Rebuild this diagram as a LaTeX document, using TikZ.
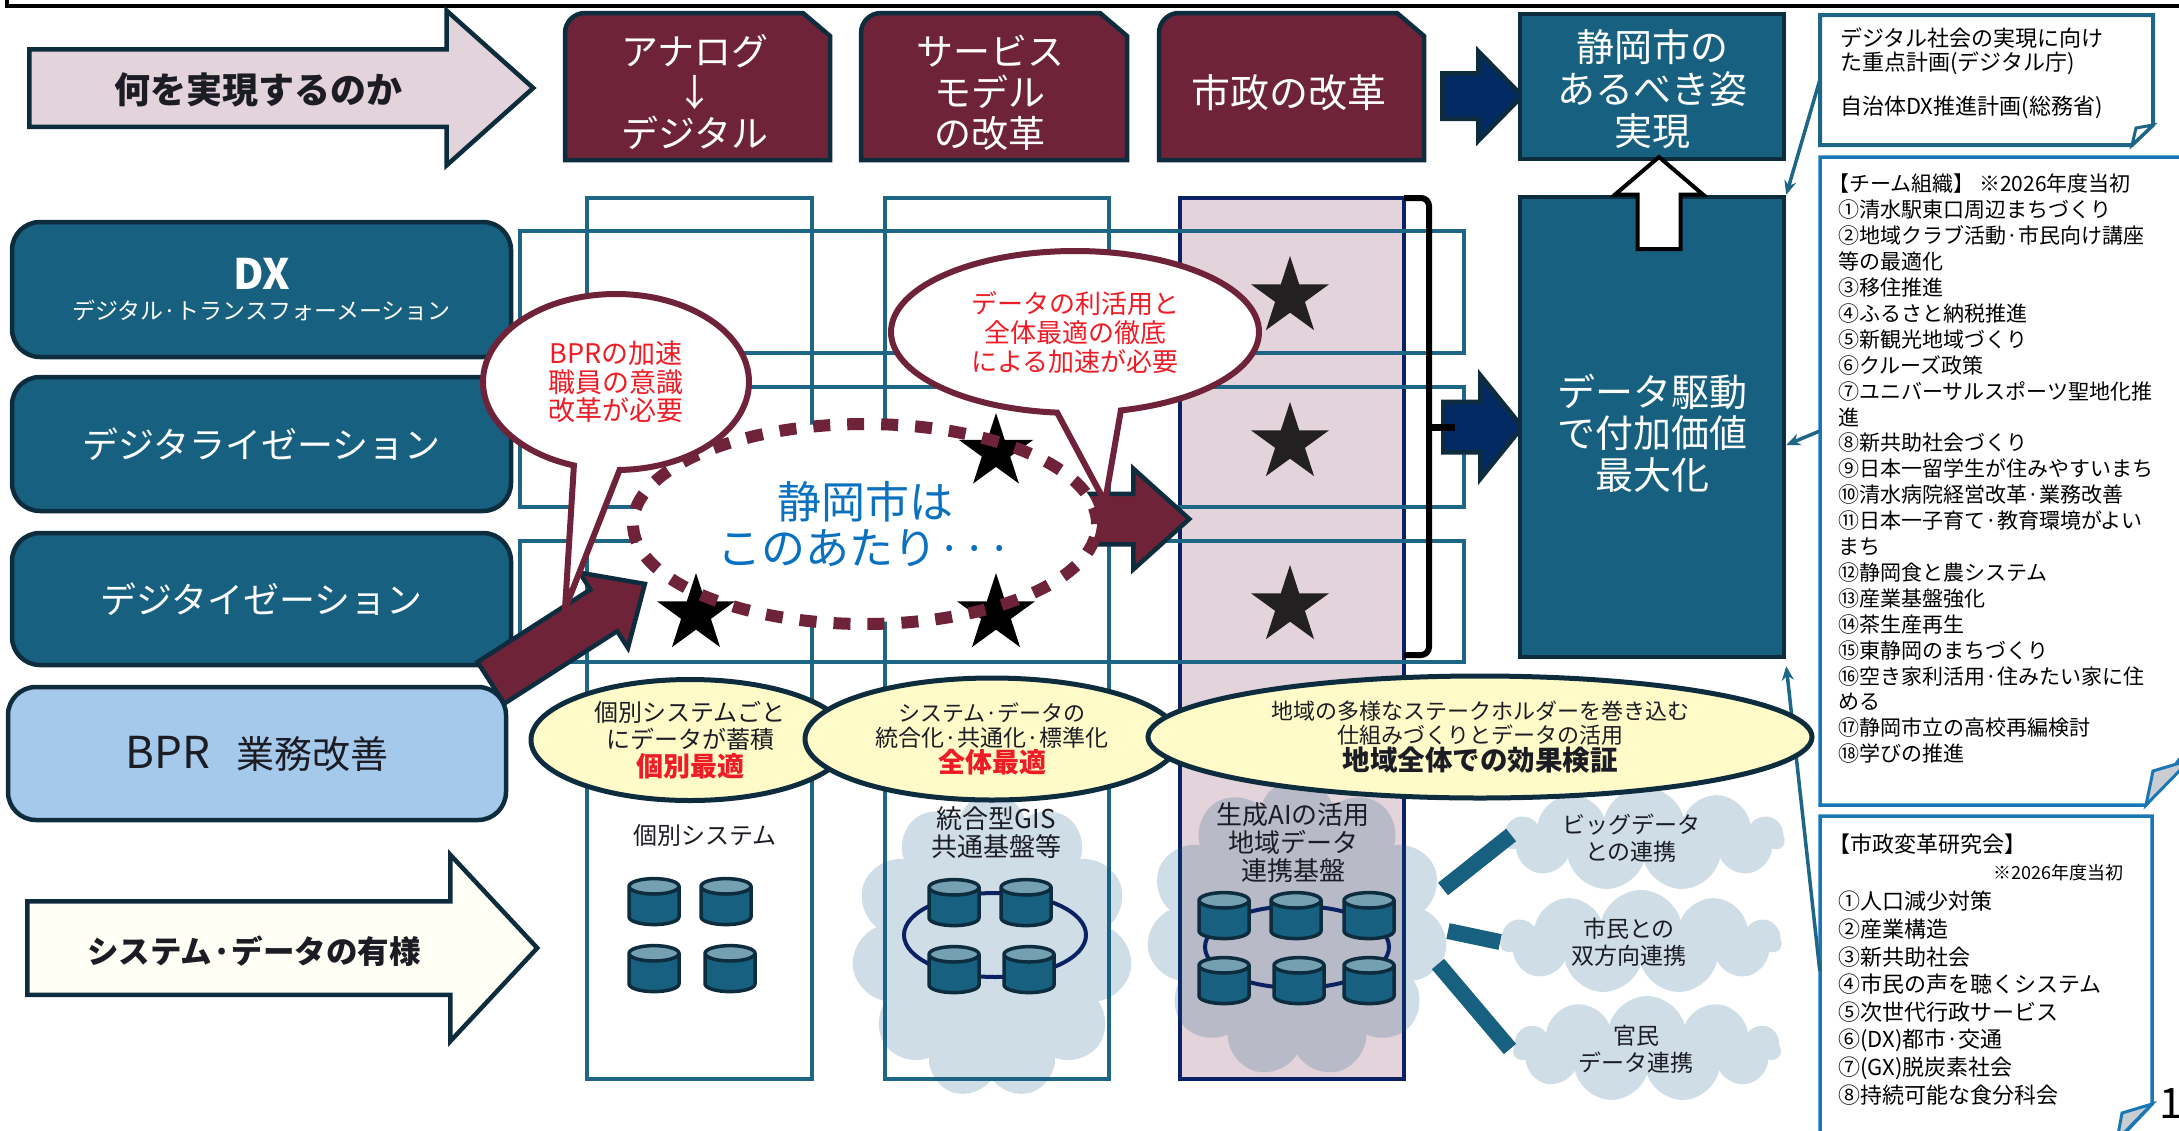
\documentclass[tikz,border=0pt]{standalone}
\usepackage{fontspec}
\setmainfont{Noto Sans CJK JP}
\usetikzlibrary{shapes.geometric,shapes.arrows,shapes.symbols,shapes.callouts,arrows.meta}
\definecolor{tealfill}{HTML}{17607F}
\definecolor{tealline}{HTML}{1D6685}
\definecolor{darkline}{HTML}{0D2D3F}
\definecolor{maroonfill}{HTML}{6F2338}
\definecolor{pinkfill}{HTML}{E3D3DA}
\definecolor{navyfill}{HTML}{042A63}
\definecolor{navyline}{HTML}{0A2164}
\definecolor{creamfill}{HTML}{FFFBC9}
\definecolor{paleskin}{HTML}{FFFFF5}
\definecolor{skyfill}{HTML}{A5C9EB}
\definecolor{bluetext}{HTML}{0A70C0}
\definecolor{bluebox}{HTML}{1A77B5}
\definecolor{redtext}{HTML}{EE1C25}
\definecolor{cloudtint}{HTML}{0F5A84}
\definecolor{inktext}{HTML}{1C1C24}
\definecolor{foldgray}{HTML}{C9CDD2}
\begin{document}
\begin{tikzpicture}[x=1pt,y=-1pt,
sidebox/.style={
% The shape:
rectangle,rounded corners=28pt,
draw=darkline,line width=4.5pt,
fill=tealfill,text=white,
minimum width=499pt,minimum height=134pt,
font=\fontsize{36}{40}\selectfont
},
plainbox/.style={
rectangle,draw=darkline,line width=4.5pt,
fill=tealfill,text=white,minimum width=264pt,
align=center,font=\fontsize{38}{41.5}\selectfont
},
snipbox/.style={
draw=darkline,line width=4.5pt,fill=maroonfill
},
snipcaption/.style={
text=white,align=center,font=\fontsize{37}{41}\selectfont
},
frame/.style={draw=tealline,line width=4pt},
goalarrow/.style={
single arrow,draw=darkline,line width=4.5pt,
single arrow head indent=0pt,anchor=tail,inner sep=0pt
},
bigstar/.style={star,star points=5,star point ratio=2.618,minimum size=82pt,inner sep=0pt,fill=black},
talkbubble/.style={
ellipse callout,draw=maroonfill,line width=6pt,fill=white,text=redtext,
align=center,inner sep=0pt,callout pointer arc=20
},
yellowtalk/.style={
ellipse,draw=darkline,line width=5pt,fill=creamfill,text=inktext,
align=center,inner sep=0pt
},
haze/.style={
cloud,cloud puffs=11,cloud ignores aspect,fill=cloudtint,fill opacity=0.2,text opacity=1,inner sep=0pt
},
hazetext/.style={text=inktext,align=center,font=\fontsize{23}{27}\selectfont},
dbcyl/.style={
cylinder,shape border rotate=90,shape aspect=1.1,yshift=-9pt,
minimum height=46pt,minimum width=50pt,inner sep=7pt,
draw=darkline,line width=3.5pt,
cylinder uses custom fill,cylinder body fill=tealfill,cylinder end fill=tealfill!60!white
},
dbring/.style={ellipse,draw=navyline,line width=4pt,inner sep=0pt},
paper/.style={draw=tealline,line width=4pt,fill=white},
bluepaper/.style={draw=bluebox,line width=3.5pt,fill=white},
fold/.style={draw=bluebox,line width=3pt,fill=foldgray},
memo/.style={text=black,align=left,anchor=north west,inner sep=0pt},
callline/.style={draw=tealline,line width=3.5pt,-{Stealth[length=14pt,width=12pt]}},
thicklink/.style={draw=tealfill,line width=16pt}
]
\clip (0,0) rectangle (2179,1130);
% Top frame:
\draw[black,line width=3.5pt] (7,-10) -- (7,6) -- (2190,6);
% First row:
\node (whatarrow) at (27,88) [goalarrow,fill=pinkfill,inner ysep=36.5pt,minimum height=504pt,minimum width=150pt,single arrow head extend=38.5pt,single arrow tip angle=83.5] {};
\node (whatlabel) at (258,90) [font=\bfseries\fontsize{36}{40}\selectfont,text=inktext] {何を実現するのか};
\draw[snipbox] (565,160) [rounded corners=20pt] -- (565,13) [sharp corners] -- (803,13) -- (830,36) -- (830,160) -- cycle;
\node (analog) at (695,92) [snipcaption] {アナログ\\↓\\デジタル};
\draw[snipbox] (861,160) [rounded corners=20pt] -- (861,13) [sharp corners] -- (1100,13) -- (1127,36) -- (1127,160) -- cycle;
\node (service) at (990,93) [snipcaption] {サービス\\モデル\\の改革};
\draw[snipbox] (1159,160) [rounded corners=20pt] -- (1159,13) [sharp corners] -- (1397,13) -- (1424,36) -- (1424,160) -- cycle;
\node (reform) at (1289,93) [snipcaption,font=\fontsize{39}{41}\selectfont] {市政の改革};
\node (toparrow) at (1440,96) [goalarrow,fill=navyfill,inner ysep=20.5pt,minimum height=80pt,minimum width=85pt,single arrow head extend=22pt,single arrow tip angle=91] {};
\node (ideal) at (1652,86.5) [plainbox,minimum height=145pt] {};
\node (ideallabel) at (1652,89) [text=white,align=center,font=\fontsize{38}{42}\selectfont] {静岡市の\\あるべき姿\\実現};
% Note boxes on the right:
\draw[paper] (1820,15) -- (2153,15) -- (2153,125) -- (2132,145) -- (1820,145) -- cycle;
\draw[draw=tealline,line width=3pt,fill=white] (2132,145) -- (2136,128) -- (2153,125) -- cycle;
\node (notebox) at (1986.5,80) [minimum width=333pt,minimum height=130pt,inner sep=0pt] {};
\node (notetext) at (1840,28) [memo,font=\fontsize{22}{24}\selectfont] {デジタル社会の実現に向け\\た重点計画(デジタル庁)\\[20pt]自治体DX推進計画(総務省)};
\draw[bluepaper] (1820,157) -- (2190,157) -- (2190,745) -- (2146,805) -- (1820,805) -- cycle;
\draw[fold] (2146,805) -- (2153,771) -- (2190,760) -- cycle;
\node (teambox) at (2000,481) [minimum width=360pt,minimum height=648pt,inner sep=0pt] {};
\node (teamtext) at (1838,174) [memo,font=\fontsize{21}{25.9}\selectfont] {\hspace{-10pt}【チーム組織】 ※2026年度当初\\①清水駅東口周辺まちづくり\\②地域クラブ活動·市民向け講座\\等の最適化\\③移住推進\\④ふるさと納税推進\\⑤新観光地域づくり\\⑥クルーズ政策\\⑦ユニバーサルスポーツ聖地化推\\進\\⑧新共助社会づくり\\⑨日本一留学生が住みやすいまち\\⑩清水病院経営改革·業務改善\\⑪日本一子育て·教育環境がよい\\まち\\⑫静岡食と農システム\\⑬産業基盤強化\\⑭茶生産再生\\⑮東静岡のまちづくり\\⑯空き家利活用·住みたい家に住\\める\\⑰静岡市立の高校再編検討\\⑱学びの推進};
\draw[bluepaper] (1820,1140) -- (1820,816) -- (2152,816) -- (2152,1104) -- (2118,1140);
\draw[fold] (2152,1104) -- (2122,1113) -- (2117,1140) -- cycle;
\node (studybox) at (1986,975) [minimum width=332pt,minimum height=318pt,inner sep=0pt] {};
\node (studytext) at (1838,834) [memo,font=\fontsize{22}{27.6}\selectfont] {\hspace{-10pt}【市政変革研究会】};
\node (studydate) at (2124,873) [anchor=east,inner sep=0pt,font=\fontsize{18}{20}\selectfont] {※2026年度当初};
\node (studylist) at (1838,891) [memo,font=\fontsize{22}{27.6}\selectfont] {①人口減少対策\\②産業構造\\③新共助社会\\④市民の声を聴くシステム\\⑤次世代行政サービス\\⑥(DX)都市·交通\\⑦(GX)脱炭素社会\\⑧持続可能な食分科会};
\node (pagenum) at (2171,1104) [inner sep=0pt,font=\fontsize{42}{44}\selectfont] {1};
% Grid of columns and rows:
\draw[draw=navyline,line width=4pt,fill=pinkfill] (1180,198) rectangle (1404,1079);
\draw[frame] (520,231) rectangle (1464,353);
\draw[frame] (520,387) rectangle (1464,507);
\draw[frame] (520,541) rectangle (1464,662);
\draw[frame] (587,198) rectangle (812,1079);
\draw[frame] (885,198) rectangle (1109,1079);
\draw[black,line width=6pt,rounded corners=8pt] (1404,198) -- (1429,198) -- (1429,655) -- (1404,655);
\node (dataarrow) at (1441,427) [goalarrow,fill=navyfill,inner ysep=23pt,minimum height=79pt,minimum width=99pt,single arrow head extend=26.5pt,single arrow tip angle=102] {};
\draw[black,line width=7pt] (1429,427) -- (1455,427);
\node (data) at (1652,427) [plainbox,minimum height=460pt] {};
\node (datalabel) at (1652,433) [text=white,align=center,font=\fontsize{38}{41.5}\selectfont] {データ駆動\\で付加価値\\最大化};
\node (uparrow) at (1659,251) [goalarrow,rotate=90,fill=white,draw=black,line width=4pt,inner ysep=19.5pt,minimum height=92pt,minimum width=84pt,single arrow head extend=22.5pt,single arrow tip angle=99] {};
\draw[callline] (notebox.west) -- (data.north east);
\draw[callline] ([yshift=50pt]teambox.west) -- ([yshift=-18pt]data.east);
\draw[callline] ([yshift=4pt]studybox.west) -- ([yshift=-7pt]data.south east);
% Left column:
\node (dxbox) at (261.5,289.5) [sidebox,minimum height=135pt,align=center] {{\bfseries\fontsize{42}{44}\selectfont DX}\\[-10pt]{\fontsize{23}{26}\selectfont デジタル·トランスフォーメーション}};
\node (digitalize) at (261.5,444) [sidebox] {デジタライゼーション};
\node (digitize) at (261.5,599) [sidebox,minimum height=132pt] {デジタイゼーション};
\node (bprbox) at (257,753.5) [sidebox,fill=skyfill,text=inktext,font=\fontsize{38}{42}\selectfont,minimum width=498pt,minimum height=133pt] {{\fontsize{44}{44}\selectfont BPR}\hspace{26pt}業務改善};
\node (sysarrow) at (25,948) [goalarrow,fill=paleskin,inner ysep=44.5pt,minimum height=510pt,minimum width=182pt,single arrow head extend=46.5pt,single arrow tip angle=94] {};
\node (syslabel) at (254,951) [font=\bfseries\fontsize{31.5}{36}\selectfont,text=inktext] {システム·データの有様};
% Clouds:
\node (cloudtwo) at (992,946) [haze,minimum width=281pt,minimum height=305pt,aspect=1.04] {};
\node (cloudthree) at (1297,928) [haze,minimum width=301pt,minimum height=298pt,aspect=1.14] {};
\node (bigdata) at (1644,839) [haze,minimum width=280pt,minimum height=104pt,aspect=2.7] {};
\node (citizen) at (1641,942) [haze,minimum width=280pt,minimum height=104pt,aspect=2.7] {};
\node (pubpriv) at (1647,1049) [haze,minimum width=267pt,minimum height=106pt,aspect=2.5] {};
\coordinate (hubtop) at (1443,889);
\coordinate (hubmid) at (1448,931);
\coordinate (hublow) at (1438,964);
\draw[thicklink] ([xshift=8pt,yshift=4pt]bigdata.west) -- (hubtop);
\draw[thicklink] (citizen.west) -- (hubmid);
\draw[thicklink] ([xshift=-3pt]pubpriv.west) -- (hublow);
\node (biglabel) at (1631,838) [hazetext] {ビッグデータ\\との連携};
\node (citizenlabel) at (1629,942) [hazetext] {市民との\\双方向連携};
\node (pubprivlabel) at (1636,1049) [hazetext] {官民\\データ連携};
% Systems in each column:
\node (indiv) at (705,835) [text=inktext,font=\fontsize{24}{28}\selectfont] {個別システム};
\node (gis) at (996,833) [text=inktext,align=center,font=\fontsize{26}{28}\selectfont] {統合型GIS\\共通基盤等};
\node (genai) at (1293,843) [text=inktext,align=center,font=\fontsize{26}{28}\selectfont] {生成AIの活用\\地域データ\\連携基盤};
\node (ringtwo) at (995,935) [dbring,minimum width=182pt,minimum height=84pt] {};
\node (ringthree) at (1297,947) [dbring,minimum width=184pt,minimum height=82pt] {};
\node (dba) at (654,900) [dbcyl] {};
\node (dbb) at (726,900) [dbcyl] {};
\node (dbc) at (654,967) [dbcyl] {};
\node (dbd) at (730,967) [dbcyl] {};
\node (dbe) at (954,901) [dbcyl] {};
\node (dbf) at (1026,901) [dbcyl] {};
\node (dbg) at (954,968) [dbcyl] {};
\node (dbh) at (1029,968) [dbcyl] {};
\node (dbi) at (1224,914) [dbcyl] {};
\node (dbj) at (1296,914) [dbcyl] {};
\node (dbk) at (1369,914) [dbcyl] {};
\node (dbl) at (1224,979) [dbcyl] {};
\node (dbm) at (1299,979) [dbcyl] {};
\node (dbn) at (1369,979) [dbcyl] {};
% Stars of the third column:
\node (starone) at (1290,297) [bigstar,fill=black!85!pinkfill] {};
\node (startwo) at (1290,443) [bigstar,fill=black!85!pinkfill] {};
\node (starthree) at (1290,606) [bigstar,fill=black!85!pinkfill] {};
% Where the city stands:
\node (pusharrow) at (1085,519) [goalarrow,fill=maroonfill,inner ysep=23pt,minimum height=102pt,minimum width=96pt,single arrow head extend=25pt,single arrow tip angle=84] {};
\node (cityzone) at (865,522) [ellipse,fill=white,minimum width=464pt,minimum height=200pt,inner sep=0pt] {};
\node (stara) at (696,614) [bigstar] {};
\node (starb) at (996,614) [bigstar] {};
\node (starc) at (996,452) [bigstar,minimum size=78pt] {};
\node (cityring) at (865,524) [ellipse,draw=maroonfill,line width=12pt,dash pattern=on 17pt off 17pt,minimum width=464pt,minimum height=200pt,inner sep=0pt,text=bluetext,align=center,font=\fontsize{44}{46}\selectfont] {静岡市は\\このあたり···};
\node (bprarrow) at (489,684) [goalarrow,rotate=32.7,fill=maroonfill,inner ysep=22.5pt,minimum height=183pt,minimum width=85pt,single arrow head extend=20pt,single arrow tip angle=85] {};
\node (bprtalk) at (616,382) [talkbubble,minimum width=266pt,minimum height=176pt,callout absolute pointer={(565,609)},font=\fontsize{27}{28.5}\selectfont] {BPRの加速\\職員の意識\\改革が必要};
\node (datatalk) at (1075,332) [talkbubble,minimum width=368pt,minimum height=162pt,callout absolute pointer={(1105,502)},font=\fontsize{26}{29}\selectfont] {データの利活用と\\全体最適の徹底\\による加速が必要};
% Yellow captions:
\node (capone) at (690,740) [yellowtalk,minimum width=318pt,minimum height=121pt,font=\fontsize{24}{27.5}\selectfont] {個別システムごと\\にデータが蓄積\\{\color{redtext}\bfseries\fontsize{27}{28}\selectfont 個別最適}};
\node (captwo) at (992,739) [yellowtalk,minimum width=374pt,minimum height=122pt,font=\fontsize{23}{25}\selectfont] {{\fontsize{22}{25}\selectfont システム·データの}\\統合化·共通化·標準化\\{\color{redtext}\bfseries\fontsize{27}{28}\selectfont 全体最適}};
\node (capthree) at (1480,737) [yellowtalk,minimum width=664pt,minimum height=122pt,font=\fontsize{22}{24.5}\selectfont] {地域の多様なステークホルダーを巻き込む\\仕組みづくりとデータの活用\\{\bfseries\fontsize{27.5}{28}\selectfont 地域全体での効果検証}};
\end{tikzpicture}
\end{document}
